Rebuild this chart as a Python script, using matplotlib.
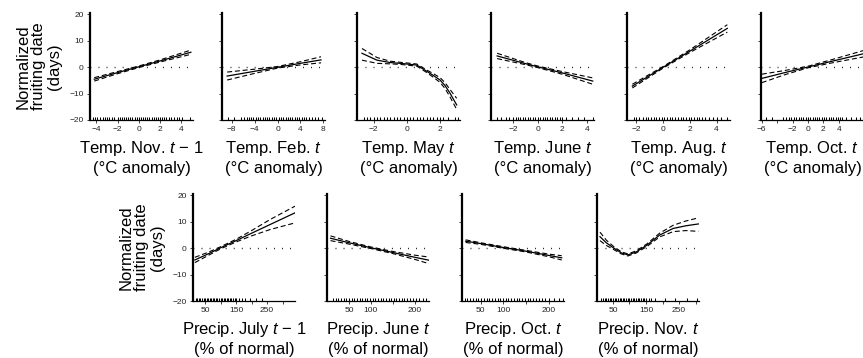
import matplotlib
matplotlib.use("Agg")
import matplotlib.pyplot as plt

plt.rcParams['font.family'] = ['Liberation Sans', 'DejaVu Sans']
plt.rcParams['mathtext.fontset'] = 'custom'
plt.rcParams['mathtext.it'] = 'Liberation Sans:italic'
plt.rcParams['mathtext.rm'] = 'Liberation Sans'

# ---- top row: temperature anomalies ----
nov_x = [-4.2, -2, 0, 2, 4.9]
nov_fit = [-4.6, -2.1, 0.1, 2.3, 5.6]
nov_lo = [-5.3, -2.5, -0.2, 1.9, 4.8]
nov_hi = [-4.0, -1.7, 0.4, 2.7, 6.4]
nov_rug = [-4.3, -4.1, -3.9, -3.7, -3.4, -3.2, -3.0, -2.8, -2.5, -2.3, -2.0, -1.8, -1.6, -1.4,
           -1.2, -1.0, -0.8, -0.6, -0.4, -0.2, 0.0, 0.2, 0.4, 0.6, 0.8, 1.0, 1.2, 1.4, 1.6,
           1.8, 2.0, 2.2, 2.4, 2.6, 2.8, 3.0, 3.3, 3.6, 3.8, 4.1, 4.8]

feb_x = [-8.8, -4, 0, 4, 7.6]
feb_fit = [-3.4, -1.6, -0.1, 1.4, 2.7]
feb_lo = [-4.9, -2.4, -0.4, 0.8, 1.6]
feb_hi = [-1.9, -0.8, 0.2, 2.0, 3.9]
feb_rug = [-8.7, -7.6, -6.3, -5.8, -5.4, -5.0, -4.6, -4.2, -3.8, -3.4, -3.0, -2.6, -2.2, -1.8,
           -1.4, -1.0, -0.6, -0.2, 0.2, 0.6, 1.0, 1.4, 1.8, 2.2, 2.6, 3.0, 3.4, 3.8, 4.2, 4.6,
           5.0, 5.5, 6.0, 6.6, 7.0, 7.8]

may_x = [-2.7, -1.8, -1.0, -0.4, 0.6, 1.25, 1.6, 2.0, 2.3, 2.6, 3.0]
may_fit = [5.2, 2.6, 1.7, 1.4, 0.75, -1.8, -3.2, -4.9, -7.0, -9.9, -14.3]
may_lo = [2.6, 1.4, 1.2, 1.0, 0.35, -2.3, -3.9, -5.8, -8.1, -11.3, -16.0]
may_hi = [7.0, 3.6, 2.2, 1.8, 1.15, -1.3, -2.5, -4.0, -5.9, -8.5, -11.8]
may_rug = [-2.6, -2.4, -2.2, -2.0, -1.8, -1.6, -1.4, -1.2, -1.0, -0.8, -0.6, -0.4, -0.2, 0.0,
           0.2, 0.4, 0.6, 0.8, 1.0, 1.2, 1.4, 1.6, 1.8, 2.0, 2.2, 2.5, 2.9, 3.1]

jun_x = [-3.3, -1, 0, 2, 4.5]
jun_fit = [4.2, 1.3, 0.1, -2.2, -5.3]
jun_lo = [3.2, 0.9, -0.2, -2.7, -6.5]
jun_hi = [5.2, 1.7, 0.4, -1.7, -4.1]
jun_rug = [-3.3, -3.0, -2.6, -2.3, -2.0, -1.8, -1.6, -1.4, -1.2, -1.0, -0.8, -0.6, -0.4, -0.2,
           0.0, 0.2, 0.4, 0.6, 0.8, 1.0, 1.2, 1.4, 1.6, 1.8, 2.0, 2.3, 2.8, 3.3, 3.8, 4.5]

aug_x = [-2.3, 0, 2, 4.8]
aug_fit = [-7.2, -0.1, 6.0, 14.6]
aug_lo = [-7.9, -0.4, 5.5, 13.2]
aug_hi = [-6.5, 0.2, 6.5, 16.0]
aug_rug = [-2.2, -2.0, -1.8, -1.5, -1.3, -1.1, -0.9, -0.7, -0.5, -0.3, -0.1, 0.1, 0.3, 0.5,
           0.7, 0.9, 1.1, 1.3, 1.5, 1.7, 1.9, 2.1, 2.3, 2.5, 2.7, 2.9, 3.1, 3.4, 3.7, 4.0,
           4.3, 4.8]

oct_x = [-6, -3, 0, 3, 7.2]
oct_fit = [-4.3, -2.1, 0.0, 2.1, 5.0]
oct_lo = [-5.9, -2.9, -0.3, 1.5, 3.8]
oct_hi = [-2.7, -1.3, 0.3, 2.7, 6.2]
oct_rug = [-5.5, -4.7, -3.2, -2.9, -2.5, -2.2, -1.8, -1.5, -1.2, -0.9, -0.6, -0.3, 0.0, 0.3,
           0.6, 0.9, 1.2, 1.5, 1.8, 2.1, 2.4, 2.7, 3.0, 3.3, 3.6, 3.9, 4.2, 4.5, 5.0, 5.6,
           6.2, 6.8]

# ---- bottom row: precipitation (% of normal) ----
pjul_x = [17, 60, 100, 150, 200, 260, 340]
pjul_fit = [-4.5, -2.2, 0.1, 2.8, 5.6, 8.9, 13.3]
pjul_lo = [-5.5, -2.8, -0.3, 2.3, 4.6, 7.0, 9.5]
pjul_hi = [-3.5, -1.6, 0.5, 3.3, 6.6, 10.8, 15.8]
pjul_rug = [20, 25, 30, 35, 40, 45, 50, 55, 60, 65, 70, 75, 80, 85, 90, 95, 100, 105, 110,
            115, 120, 125, 130, 135, 140, 145, 150, 160, 170, 180, 195, 215, 235]

pjun_x = [8, 50, 100, 150, 200, 232]
pjun_fit = [3.7, 2.0, 0.1, -1.7, -3.5, -4.6]
pjun_lo = [2.8, 1.5, -0.2, -2.1, -4.3, -5.9]
pjun_hi = [4.6, 2.5, 0.4, -1.3, -2.7, -3.4]
pjun_rug = [14, 20, 26, 32, 38, 44, 50, 56, 62, 68, 74, 80, 86, 92, 98, 104, 110, 116, 122,
            128, 134, 140, 146, 152, 158, 164, 170, 176, 182, 188, 195, 202, 210, 218, 226]

poct_x = [17, 50, 100, 150, 200, 228]
poct_fit = [2.6, 1.7, 0.2, -1.2, -2.8, -3.7]
poct_lo = [2.1, 1.4, -0.1, -1.5, -3.3, -4.5]
poct_hi = [3.1, 2.0, 0.5, -0.9, -2.3, -2.9]
poct_rug = [15, 21, 27, 33, 39, 45, 51, 57, 63, 69, 75, 81, 87, 93, 99, 105, 111, 117, 123,
            129, 135, 141, 147, 153, 159, 165, 171, 177, 184, 192, 200, 212, 222, 230]

pnov_x = [11, 30, 50, 75, 95, 120, 153, 191, 232, 270, 308]
pnov_fit = [4.3, 2.0, 0.2, -1.8, -2.6, -1.5, 1.1, 4.9, 7.4, 8.4, 9.1]
pnov_lo = [2.8, 1.0, -0.4, -2.2, -3.0, -1.9, 0.6, 4.2, 6.2, 6.6, 6.3]
pnov_hi = [6.0, 3.0, 0.8, -1.4, -2.2, -1.1, 1.6, 5.6, 8.6, 10.2, 11.4]
pnov_rug = [15, 20, 25, 30, 35, 40, 45, 50, 55, 60, 65, 70, 75, 80, 85, 90, 95, 100, 105, 110,
            115, 120, 125, 130, 135, 140, 145, 150, 158, 166, 177, 207, 238, 274, 304]

top_labels = ["Temp. Nov. $t$ \u2212 1", "Temp. Feb. $t$", "Temp. May $t$",
              "Temp. June $t$", "Temp. Aug. $t$", "Temp. Oct. $t$"]
bot_labels = ["Precip. July $t$ \u2212 1", "Precip. June $t$", "Precip. Oct. $t$",
              "Precip. Nov. $t$"]

top = [
    (nov_x, nov_fit, nov_lo, nov_hi, nov_rug, (-4.6, 5.1), [-4, -2, 0, 2, 4], None),
    (feb_x, feb_fit, feb_lo, feb_hi, feb_rug, (-9.7, 8.3), [-8, -4, 0, 4, 8], None),
    (may_x, may_fit, may_lo, may_hi, may_rug, (-3.0, 3.2), [-2, 0, 2], None),
    (jun_x, jun_fit, jun_lo, jun_hi, jun_rug, (-3.8, 4.6), [-2, 0, 2, 4], None),
    (aug_x, aug_fit, aug_lo, aug_hi, aug_rug, (-2.7, 5.0), [-2, 0, 2, 4], None),
    (oct_x, oct_fit, oct_lo, oct_hi, oct_rug, (-6.1, 7.3), [-6, -4, -2, 0, 2, 4],
     ["\u22126", "", "\u22122", "0", "2", "4"]),
]
bottom = [
    (pjul_x, pjul_fit, pjul_lo, pjul_hi, pjul_rug, (11, 340), [50, 100, 150, 200, 250, 300],
     ["50", "", "150", "", "250", ""]),
    (pjun_x, pjun_fit, pjun_lo, pjun_hi, pjun_rug, (0, 232), [50, 100, 150, 200],
     ["50", "100", "", "200"]),
    (poct_x, poct_fit, poct_lo, poct_hi, poct_rug, (9, 233), [50, 100, 150, 200],
     ["50", "100", "", "200"]),
    (pnov_x, pnov_fit, pnov_lo, pnov_hi, pnov_rug, (2, 310), [50, 100, 150, 200, 250, 300],
     ["50", "", "150", "", "250", ""]),
]

W, H = 863, 358
fig = plt.figure(figsize=(W / 100, H / 100), dpi=100)


def panel(left, top_px, width, spec, xlabel, unit, first):
    x, fit, lo, hi, rug, xlim, ticks, tlabels = spec
    ax = fig.add_axes([left / W, 1 - (top_px + 107.5) / H, width / W, 107.5 / H])
    ax.axhline(0, color='k', lw=1.0, ls=(0, (0.6, 5.2)))
    ax.plot(x, fit, color='k', lw=0.9)
    ax.plot(x, lo, color='k', lw=0.8, ls=(0, (4.5, 2.5)))
    ax.plot(x, hi, color='k', lw=0.8, ls=(0, (4.5, 2.5)))
    ax.vlines(rug, 0, 0.03, transform=ax.get_xaxis_transform(), color='k', lw=0.75)
    ax.set_xlim(*xlim)
    ax.set_ylim(-20, 20.6)
    ax.set_xticks(ticks)
    if tlabels is None:
        tlabels = [str(t).replace('-', '\u2212') for t in ticks]
    ax.set_xticklabels(tlabels)
    ax.set_yticks([-20, -10, 0, 10, 20])
    if first:
        ax.set_yticklabels(["\u221220", "\u221210", "0", "10", "20"])
        ax.annotate("Normalized\nfruiting date\n(days)", xy=(0, 0.5), xycoords='axes fraction',
                    xytext=(-37, 0), textcoords='offset points', rotation=90,
                    ha='center', va='center', fontsize=12, linespacing=1.05,
                    multialignment='center')
    else:
        ax.set_yticklabels([])
    for s in ['top', 'right']:
        ax.spines[s].set_visible(False)
    ax.spines['left'].set_linewidth(1.6)
    ax.spines['bottom'].set_linewidth(0.9)
    ax.tick_params(direction='out', length=2.5, width=0.6, labelsize=6, pad=2,
                   colors='#222222')
    ax.annotate(xlabel + "\n" + unit, xy=(0.5, 0), xycoords='axes fraction',
                xytext=(0, -27), textcoords='offset points', ha='center', va='center',
                fontsize=12, linespacing=1.2, multialignment='center')
    return ax


for i, spec in enumerate(top):
    panel([90, 222, 357, 491, 627, 761][i], 12.5, 103, spec, top_labels[i],
          "(\u00b0C anomaly)", i == 0)

for i, spec in enumerate(bottom):
    panel([193, 327, 462, 597][i], 193.5, 102, spec, bot_labels[i],
          "(% of normal)", i == 0)

fig.savefig("out.png", dpi=100)
